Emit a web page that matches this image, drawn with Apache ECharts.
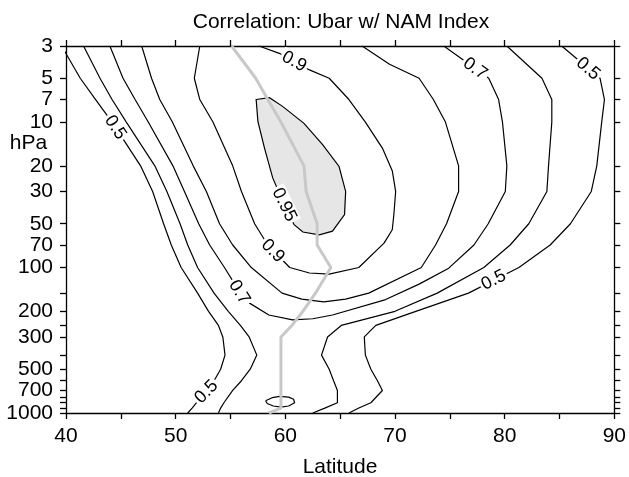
<!DOCTYPE html>
<html>
<head>
<meta charset="utf-8">
<title>Correlation: Ubar w/ NAM Index</title>
<script src="https://cdn.jsdelivr.net/npm/echarts@6/dist/echarts.min.js"></script>
<style>
  html, body { margin: 0; padding: 0; background: #fff; }
  #chart { width: 629px; height: 477px; }
</style>
</head>
<body>
<div id="chart"></div>
<script>
// Pressure levels (hPa): labelled ones and every tick mark
const pressureLabels = [3, 5, 7, 10, 20, 30, 50, 70, 100, 200, 300, 500, 700, 1000];
const pressureTicks = [3, 5, 7, 10, 20, 30, 50, 70, 100, 150, 200, 250, 300, 400, 500, 600, 700, 775, 850, 925, 1000];

// Contour lines of the correlation, points are [latitude, pressure hPa]
const c05West = [[39.6,3],[41.3,5],[42.7,7],[44.2,10],[46.8,20],[47.9,30],[48.9,50],[49.6,70],[50.5,100],[52.0,150],[53.0,200],[53.9,250],[54.3,300],[54.5,400],[54.1,500],[53.5,600],[53.0,700],[51.9,850],[51.5,925],[51.1,1000]];
const c06West = [[41.6,3],[43.1,5],[44.2,7],[45.5,10],[48.1,20],[49.2,30],[50.4,50],[51.1,70],[52.0,100],[53.5,150],[54.8,200],[55.9,250],[56.7,300],[57.4,400],[56.8,500],[56.0,600],[55.2,700],[54.4,850],[54.1,925],[53.9,1000]];
const c06East = [[62.5,1000],[63.6,925],[64.75,850],[64.75,700],[64.4,600],[64.0,500],[63.3,400],[63.85,300],[65.1,250],[70.0,200],[73.85,150],[78.1,100],[80.5,70],[82.2,50],[83.85,30],[84.0,20],[84.3,10],[84.3,7],[83.4,5],[80.2,3]];
const c05East = [[65.8,1000],[66.7,925],[67.8,850],[68.85,700],[68.4,600],[67.8,500],[67.3,400],[67.2,300],[68.25,250],[71.9,200],[76.7,150],[81.3,100],[84.15,70],[86.0,50],[87.9,30],[88.4,20],[88.85,10],[89.1,7],[88.7,5],[85.2,3]];
const c07 = [[44.0,3],[45.2,5],[46.3,7],[47.5,10],[49.75,20],[50.8,30],[52.1,50],[53.1,70],[54.45,100],[55.9,150],[56.7,175],[58.5,212],[60.66,229],[62.5,225],[64.3,212],[69.15,166],[72.2,130],[74.9,101],[77.2,70],[78.5,50],[80.06,30],[80.2,20],[79.8,10],[79.45,7],[78.55,5],[74.45,3]];
const c07Surface = [[58.2,823],[58.8,785],[59.5,768],[60.3,778],[60.75,805],[60.85,850],[60.3,895],[59.6,912],[58.9,895],[58.35,860],[58.2,823]];
const c08 = [[46.9,3],[47.8,5],[48.55,7],[49.7,10],[51.6,20],[52.8,30],[54.0,50],[55.2,70],[56.9,100],[59.7,150],[61.5,165],[63.5,172],[65.5,165],[67.6,150],[72.4,100],[73.7,70],[74.7,50],[75.8,30],[75.8,20],[74.6,10],[73.5,7],[72.2,5],[69.5,4],[67.0,3]];
const c09 = [[52.2,3],[51.7,5],[52.2,7],[53.4,10],[55.2,20],[56.0,30],[57.2,50],[58.4,70],[60.4,100],[62.2,109],[64.0,111],[66.7,100],[69.0,68],[69.75,55],[69.9,43],[70.06,30],[69.75,21.6],[68.85,15.1],[67.3,10],[65.8,7],[64.0,5],[62.2,4.38],[60.8,3.84],[59.45,3.37],[57.6,3]];
// Region where the correlation exceeds 0.95
const core095 = [[57.34,7],[58.55,6.8],[59.75,7.8],[61.7,10.2],[63.4,14.3],[64.9,20.2],[65.5,30],[65.4,43.3],[64.3,56.2],[63.1,59.6],[61.6,57],[60.8,50.8],[59.9,37],[58.85,24.2],[58.1,15.1],[57.5,9.9]];
// Latitude of the strongest correlation at each level
const maxLatitude = [[55.1,3],[57.3,5],[58.4,7],[59.6,10],[61.7,20],[61.9,30],[62.9,50],[62.9,70],[64.15,100],[62.75,150],[61.6,200],[60.6,250],[59.6,300],[59.6,400],[59.6,500],[59.6,600],[59.6,700],[59.6,850],[59.6,925],[58.5,1000]];

// Contour labels: text, position [latitude, pressure] and the line they sit on
const labelText = ['0.5', '0.5', '0.7', '0.9', '0.95', '0.9', '0.7', '0.5', '0.5'];
const labelAt = [[44.5,10.9],[52.8,716],[55.8,148],[58.85,77],[59.9,37],[60.8,3.84],[77.3,4.3],[87.6,4.3],[79.0,122]];
const labelLine = [c05West, c05West, c07, c09, core095, c09, c07, c05East, c05East];

const FONT = '"Liberation Sans", Arial, Helvetica, sans-serif';
const chart = echarts.init(document.getElementById('chart'), null, { renderer: 'canvas' });

const axisLine = { show: true, onZero: false, lineStyle: { color: '#000', width: 1.3 } };
const tickStyle = { color: '#000', width: 1.3 };
const labelStyle = { color: '#000', fontSize: 21, fontFamily: FONT };

function contour(data) {
  return {
    type: 'line', data: data, xAxisIndex: 0, yAxisIndex: 0,
    showSymbol: false, symbol: 'none', silent: true, z: 3,
    lineStyle: { color: '#000', width: 1.2 }
  };
}

const option = {
  animation: false,
  backgroundColor: '#fff',
  grid: { left: 66, right: 13, top: 46, bottom: 64, containLabel: false },
  graphic: [
    { type: 'text', x: 341, y: 22, style: { text: 'Correlation: Ubar w/ NAM Index', font: '21px ' + FONT, fill: '#000', align: 'center', verticalAlign: 'middle' } },
    { type: 'text', x: 28.5, y: 143, style: { text: 'hPa', font: '21px ' + FONT, fill: '#000', align: 'center', verticalAlign: 'middle' } },
    { type: 'text', x: 340, y: 467, style: { text: 'Latitude', font: '21px ' + FONT, fill: '#000', align: 'center', verticalAlign: 'middle' } }
  ],
  xAxis: [
    { type: 'value', min: 40, max: 90, interval: 5, position: 'bottom', axisLine: axisLine,
      axisTick: { show: true, length: 6, inside: false, lineStyle: tickStyle },
      axisLabel: Object.assign({ margin: 13, formatter: v => (v % 10 === 0 ? String(v) : '') }, labelStyle),
      splitLine: { show: false } },
    { type: 'value', min: 40, max: 90, interval: 5, position: 'top', axisLine: axisLine,
      axisTick: { show: true, length: 6, inside: false, lineStyle: tickStyle },
      axisLabel: { show: false }, splitLine: { show: false } }
  ],
  yAxis: [
    { type: 'log', logBase: 10, min: 3, max: 1000, inverse: true, position: 'left', axisLine: axisLine,
      axisTick: { show: true, length: 6, inside: false, lineStyle: tickStyle, customValues: pressureTicks },
      axisLabel: Object.assign({ margin: 13, customValues: pressureLabels, formatter: v => String(Math.round(v)) }, labelStyle),
      splitLine: { show: false }, minorTick: { show: false } },
    { type: 'log', logBase: 10, min: 3, max: 1000, inverse: true, position: 'right', axisLine: axisLine,
      axisTick: { show: true, length: 6, inside: false, lineStyle: tickStyle, customValues: pressureTicks },
      axisLabel: { show: false, customValues: pressureLabels },
      splitLine: { show: false } }
  ],
  series: [
    {
      type: 'custom', xAxisIndex: 0, yAxisIndex: 0, silent: true, z: 2,
      data: [core095[0]],
      renderItem: (params, api) => ({
        type: 'polygon',
        shape: { points: core095.map(pt => api.coord(pt)) },
        style: { fill: '#e6e6e6', stroke: '#000', lineWidth: 1.2 }
      })
    },
    contour(c05West), contour(c06West), contour(c06East), contour(c05East),
    contour(c07), contour(c07Surface), contour(c08), contour(c09),
    {
      type: 'line', data: maxLatitude, xAxisIndex: 0, yAxisIndex: 0,
      showSymbol: false, symbol: 'none', silent: true, z: 4,
      lineStyle: { color: '#c8c8c8', width: 3 }
    },
    {
      type: 'custom', xAxisIndex: 0, yAxisIndex: 0, silent: true, z: 10,
      data: labelAt.map((pt, i) => [pt[0], pt[1], i]),
      renderItem: (params, api) => {
        const i = api.value(2);
        const c = api.coord([api.value(0), api.value(1)]);
        const pts = labelLine[i].map(pt => api.coord(pt));
        // orient the text along the nearest segment of its contour
        let best = Infinity, dx = 1, dy = 0;
        for (let k = 0; k < pts.length - 1; k++) {
          const a = pts[k], b = pts[k + 1];
          const vx = b[0] - a[0], vy = b[1] - a[1];
          const len2 = vx * vx + vy * vy || 1;
          let t = ((c[0] - a[0]) * vx + (c[1] - a[1]) * vy) / len2;
          t = Math.max(0, Math.min(1, t));
          const px = a[0] + t * vx - c[0], py = a[1] + t * vy - c[1];
          const d = px * px + py * py;
          if (d < best) { best = d; dx = vx; dy = vy; }
        }
        let rot = -Math.atan2(dy, dx);
        if (rot > Math.PI / 2) rot -= Math.PI;
        if (rot < -Math.PI / 2) rot += Math.PI;
        return {
          type: 'text', x: c[0], y: c[1], rotation: rot,
          style: {
            text: labelText[i], font: '18px ' + FONT, fill: '#000',
            align: 'center', verticalAlign: 'middle',
            backgroundColor: '#fff', padding: [0, 2]
          }
        };
      }
    }
  ]
};

chart.setOption(option);
</script>
</body>
</html>
